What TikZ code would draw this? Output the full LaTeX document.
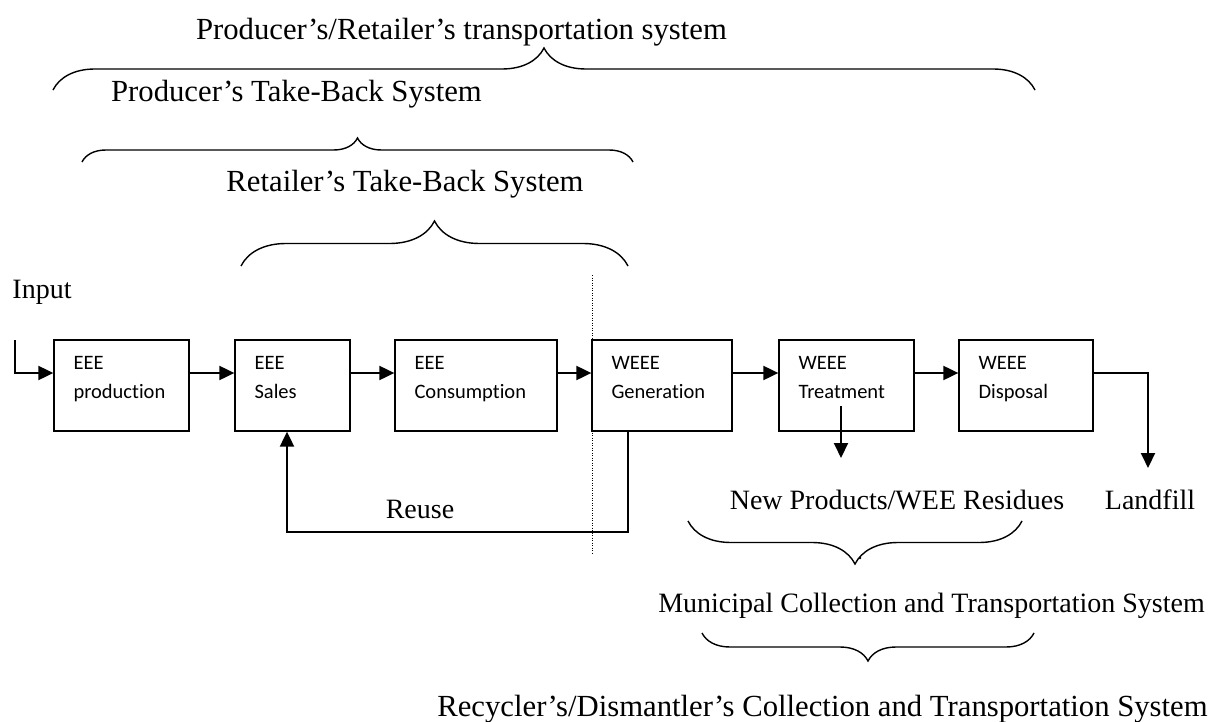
\documentclass[tikz,border=0pt]{standalone}
\usepackage{fontspec}
\setmainfont{Liberation Serif}
\newfontfamily\boxfont{Carlito}[Ligatures=NoCommon]
\usetikzlibrary{arrows.meta,decorations.pathreplacing}

\tikzset{
	box/.style={draw, line width=1.3pt, minimum height=91pt, inner sep=0pt},
	boxtext/.style={anchor=north west, align=left, inner sep=0pt, font=\boxfont\fontsize{20.5}{29}\selectfont},
	flow/.style={line width=2pt, -{Triangle[length=15pt,width=14pt]}},
	bracket/.style={line width=1.4pt, decorate, decoration={brace, amplitude=#1}},
	bigtxt/.style={anchor=base, inner sep=0pt, font=\fontsize{30.7}{36}\selectfont},
	smalltxt/.style={anchor=base, inner sep=0pt, font=\fontsize{28}{33}\selectfont}
}

\begin{document}
\begin{tikzpicture}[x=1pt,y=-1pt]
			%%%%% START %%%%%
			\useasboundingbox (0,0) rectangle (1217,722);
			
			% chain of boxes
			\node[box, minimum width=135pt] (prod) at (121.5,385.5) {};
			\node[box, minimum width=115pt] (sales) at (292.5,385.5) {};
			\node[box, minimum width=162pt] (cons) at (476,385.5) {};
			\node[box, minimum width=140pt] (gen) at (662,385.5) {};
			\node[box, minimum width=135pt] (treat) at (846.5,385.5) {};
			\node[box, minimum width=134pt] (disp) at (1026,385.5) {};
			
			\node[boxtext] (prodtxt) at ([xshift=20pt,yshift=-17pt]prod.north west) {EEE\\production};
			\node[boxtext] (salestxt) at ([xshift=20pt,yshift=-17pt]sales.north west) {EEE\\Sales};
			\node[boxtext] (constxt) at ([xshift=20pt,yshift=-17pt]cons.north west) {EEE\\Consumption};
			\node[boxtext] (gentxt) at ([xshift=20pt,yshift=-17pt]gen.north west) {WEEE\\Generation};
			\node[boxtext] (treattxt) at ([xshift=20pt,yshift=-17pt]treat.north west) {WEEE\\Treatment};
			\node[boxtext] (disptxt) at ([xshift=20pt,yshift=-17pt]disp.north west) {WEEE\\Disposal};
			
			% input and outputs
			\node[smalltxt] (input) at (42,298) {Input};
			\coordinate (instart) at (15,340);
			\draw[flow] (instart) |- ([yshift=12.5pt]prod.west);
			
			\draw[flow] ([yshift=12.5pt]prod.east) -- ([yshift=12.5pt]sales.west);
			\draw[flow] ([yshift=12.5pt]sales.east) -- ([yshift=12.5pt]cons.west);
			\draw[flow] ([yshift=12.5pt]cons.east) -- ([yshift=12.5pt]gen.west);
			\draw[flow] ([yshift=12.5pt]gen.east) -- ([yshift=12.5pt]treat.west);
			\draw[flow] ([yshift=12.5pt]treat.east) -- ([yshift=12.5pt]disp.west);
			
			\coordinate (treatout) at (841,458);
			\draw[flow] ([xshift=-5.5pt,yshift=-20.5pt]treat.center) -- (treatout);
			\coordinate (landout) at (1148,468);
			\draw[flow] ([yshift=12.5pt]disp.east) -| (landout);
			
			\node[smalltxt] (newprod) at (897,509) {New Products/WEE Residues};
			\node[smalltxt] (landfill) at (1150,509) {Landfill};
			
			% reuse loop
			\coordinate (reusebot) at (450,532);
			\draw[flow] ([xshift=-34pt]gen.south) |- (reusebot) -| ([xshift=-5.5pt]sales.south);
			\node[smalltxt] (reuse) at (420,518) {Reuse};
			
			\draw[line width=1pt, dash pattern=on 1.2pt off 1.3pt] (592,275) -- (592,554);
			
			% systems above
			\node[bigtxt] (transport) at (461.5,40) {Producer's/Retailer's transportation system};
			\draw[bracket=42pt] (53,90) -- (1035,90);
			\node[bigtxt] (prodtb) at (296.5,102) {Producer's Take-Back System};
			\draw[bracket=24pt] (82,162) -- (633,162);
			\node[bigtxt] (rettb) at (405,192) {Retailer's Take-Back System};
			\draw[bracket=45pt] (241,266) -- (628,266);
			
			% systems below
			\draw[bracket=43pt] (1022,521) -- (688,521);
			\fill (860,558) circle (1.3pt);
			\node[smalltxt] (municipal) at (931.5,612) {Municipal Collection and Transportation System};
			\draw[bracket=28pt] (1034,633) -- (702,633);
			\node[bigtxt] (recycler) at (822.5,716) {Recycler's/Dismantler's Collection and Transportation System};
			
			%%%%% END %%%%%
\end{tikzpicture}
\end{document}
